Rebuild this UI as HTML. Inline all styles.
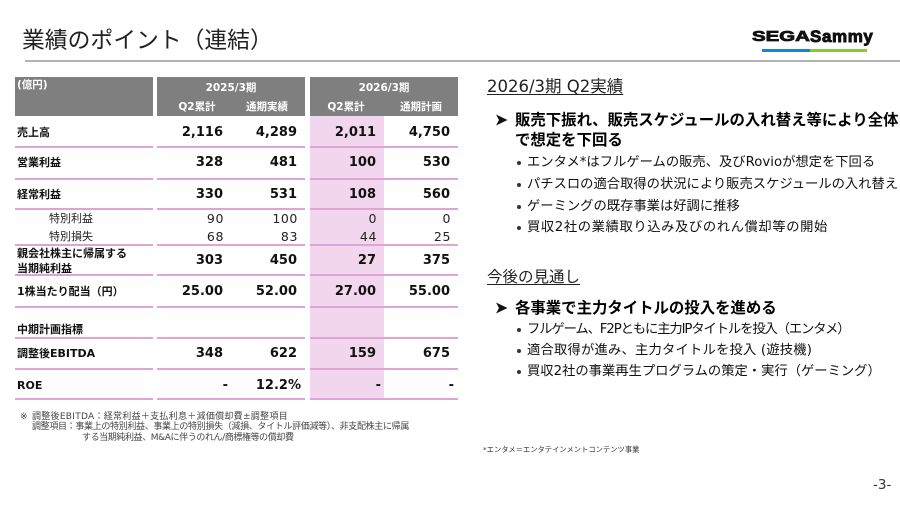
<!DOCTYPE html>
<html><head><meta charset="utf-8">
<style>
*{margin:0;padding:0;box-sizing:border-box}
html,body{width:900px;height:506px;overflow:hidden;background:#fff}
body{position:relative;font-family:"DejaVu Sans","Noto Sans CJK JP",sans-serif;color:#111}
.a{position:absolute;white-space:nowrap}
.hd{position:absolute;background:#7f7f7f}
.ln{position:absolute;height:2px;background:#dea4d6}
.h{color:#fff;font-weight:bold;font-size:10.5px;line-height:14px;width:100px;text-align:center}
.lb{font-weight:bold;font-size:11px;line-height:16px;left:17px}
.sl{font-size:11px;line-height:16px;left:49px;color:#222}
.v{font-weight:bold;font-size:13px;line-height:18px;text-align:right}
.r{font-size:12.5px;line-height:16px;text-align:right;letter-spacing:0.6px;color:#222}
.sb{font-size:13.3px;line-height:20px;left:527px;color:#111}
.dot{position:absolute;width:4px;height:4px;border-radius:50%;background:#333;left:516.5px}
.hb{font-weight:bold;font-size:15.4px;line-height:22px;left:515px;color:#000}
.fn{font-size:9px;line-height:11px;color:#444}
</style></head>
<body>
<!-- title -->
<div class="a" style="left:22px;top:24px;font-family:'Noto Sans CJK JP',sans-serif;font-size:22.8px;line-height:30px;color:#222">業績のポイント（連結）</div>
<div class="a" style="left:25px;top:60px;width:875px;height:2px;background:#b3b3b3"></div>

<!-- logo -->
<div class="a" style="left:752px;top:29.3px;font-family:'Liberation Sans',sans-serif;font-weight:bold;font-size:15px;line-height:15px;transform:scaleX(1.36);transform-origin:left center;-webkit-text-stroke:0.8px #111;color:#111">SEGA</div>
<div class="a" style="left:810px;top:27.6px;font-family:'Liberation Sans',sans-serif;font-weight:bold;font-size:17px;line-height:17px;letter-spacing:0.6px;-webkit-text-stroke:0.9px #111;color:#111">Sammy</div>
<div class="a" style="left:762px;top:49px;width:48px;height:3px;background:#1f7fd0"></div>
<div class="a" style="left:810px;top:49px;width:57px;height:3px;background:#8cc63f"></div>

<!-- table header -->
<div class="hd" style="left:15px;top:77px;width:138px;height:39px"></div>
<div class="hd" style="left:157px;top:77px;width:148px;height:39px"></div>
<div class="hd" style="left:310px;top:77px;width:148px;height:39px"></div>
<div class="a h" style="left:17px;top:78px;width:auto;text-align:left">(億円)</div>
<div class="a h" style="left:181px;top:81px">2025/3期</div>
<div class="a h" style="left:147px;top:100px">Q2累計</div>
<div class="a h" style="left:217px;top:100px">通期実績</div>
<div class="a h" style="left:334px;top:81px">2026/3期</div>
<div class="a h" style="left:296px;top:100px">Q2累計</div>
<div class="a h" style="left:371px;top:100px">通期計画</div>

<!-- highlight -->
<div class="a" style="left:310px;top:116px;width:74px;height:284px;background:#f1d6ed"></div>

<!-- row lines -->
<div class="ln" style="left:15px;top:146px;width:138px"></div><div class="ln" style="left:157px;top:146px;width:148px"></div><div class="ln" style="left:310px;top:146px;width:148px"></div>
<div class="ln" style="left:15px;top:178px;width:138px"></div><div class="ln" style="left:157px;top:178px;width:148px"></div><div class="ln" style="left:310px;top:178px;width:148px"></div>
<div class="ln" style="left:15px;top:208px;width:138px"></div><div class="ln" style="left:157px;top:208px;width:148px"></div><div class="ln" style="left:310px;top:208px;width:148px"></div>
<div class="ln" style="left:15px;top:244px;width:138px"></div><div class="ln" style="left:157px;top:244px;width:148px"></div><div class="ln" style="left:310px;top:244px;width:148px"></div>
<div class="ln" style="left:15px;top:274px;width:138px"></div><div class="ln" style="left:157px;top:274px;width:148px"></div><div class="ln" style="left:310px;top:274px;width:148px"></div>
<div class="ln" style="left:15px;top:306px;width:138px"></div><div class="ln" style="left:157px;top:306px;width:148px"></div><div class="ln" style="left:310px;top:306px;width:148px"></div>
<div class="ln" style="left:15px;top:337px;width:138px"></div><div class="ln" style="left:157px;top:337px;width:148px"></div><div class="ln" style="left:310px;top:337px;width:148px"></div>
<div class="ln" style="left:15px;top:368px;width:138px"></div><div class="ln" style="left:157px;top:368px;width:148px"></div><div class="ln" style="left:310px;top:368px;width:148px"></div>
<div class="ln" style="left:15px;top:398px;width:138px"></div><div class="ln" style="left:157px;top:398px;width:148px"></div><div class="ln" style="left:310px;top:398px;width:148px"></div>

<!-- labels -->
<div class="a lb" style="top:125px">売上高</div>
<div class="a lb" style="top:155px">営業利益</div>
<div class="a lb" style="top:187px">経常利益</div>
<div class="a sl" style="top:211px">特別利益</div>
<div class="a sl" style="top:229px">特別損失</div>
<div class="a lb" style="top:246px">親会社株主に帰属する</div>
<div class="a lb" style="top:261px">当期純利益</div>
<div class="a lb" style="top:284px">1株当たり配当（円）</div>
<div class="a lb" style="top:322px">中期計画指標</div>
<div class="a lb" style="top:346px">調整後EBITDA</div>
<div class="a lb" style="top:378px">ROE</div>

<!-- values -->
<div class="a v" style="right:677px;top:124px">2,116</div>
<div class="a v" style="right:603px;top:124px">4,289</div>
<div class="a v" style="right:524px;top:124px">2,011</div>
<div class="a v" style="right:450px;top:124px">4,750</div>

<div class="a v" style="right:677px;top:154px">328</div>
<div class="a v" style="right:603px;top:154px">481</div>
<div class="a v" style="right:524px;top:154px">100</div>
<div class="a v" style="right:450px;top:154px">530</div>

<div class="a v" style="right:677px;top:186px">330</div>
<div class="a v" style="right:603px;top:186px">531</div>
<div class="a v" style="right:524px;top:186px">108</div>
<div class="a v" style="right:450px;top:186px">560</div>

<div class="a r" style="right:676px;top:211px">90</div>
<div class="a r" style="right:602px;top:211px">100</div>
<div class="a r" style="right:523px;top:211px">0</div>
<div class="a r" style="right:449px;top:211px">0</div>

<div class="a r" style="right:676px;top:229px">68</div>
<div class="a r" style="right:602px;top:229px">83</div>
<div class="a r" style="right:523px;top:229px">44</div>
<div class="a r" style="right:449px;top:229px">25</div>

<div class="a v" style="right:677px;top:252px">303</div>
<div class="a v" style="right:603px;top:252px">450</div>
<div class="a v" style="right:524px;top:252px">27</div>
<div class="a v" style="right:450px;top:252px">375</div>

<div class="a v" style="right:677px;top:283px">25.00</div>
<div class="a v" style="right:603px;top:283px">52.00</div>
<div class="a v" style="right:524px;top:283px">27.00</div>
<div class="a v" style="right:450px;top:283px">55.00</div>

<div class="a v" style="right:677px;top:345px">348</div>
<div class="a v" style="right:603px;top:345px">622</div>
<div class="a v" style="right:524px;top:345px">159</div>
<div class="a v" style="right:450px;top:345px">675</div>

<div class="a v" style="right:672px;top:377px">-</div>
<div class="a v" style="right:599px;top:377px">12.2%</div>
<div class="a v" style="right:519px;top:377px">-</div>
<div class="a v" style="right:446px;top:377px">-</div>

<!-- footnote -->
<div class="a fn" style="left:20px;top:412px">※</div>
<div class="a fn" style="left:32px;top:412px;letter-spacing:0.28px">調整後EBITDA：経常利益＋支払利息＋減価償却費±調整項目</div>
<div class="a fn" style="left:32px;top:422px;letter-spacing:-0.33px">調整項目：事業上の特別利益、事業上の特別損失（減損、タイトル評価減等）、非支配株主に帰属</div>
<div class="a fn" style="left:82px;top:433px;letter-spacing:-0.4px">する当期純利益、M&amp;Aに伴うのれん/商標権等の償却費</div>

<!-- right side -->
<div class="a" style="left:487px;top:76px;font-size:16.5px;line-height:22px;text-decoration:underline;text-underline-offset:2px;color:#222">2026/3期 Q2実績</div>

<svg class="a" style="left:496px;top:114px" width="12" height="12" viewBox="0 0 12 12"><polygon points="0,0.5 11.5,6 0,11.5 3,6" fill="#111"/></svg>
<div class="a hb" style="top:109px">販売下振れ、販売スケジュールの入れ替え等により全体</div>
<div class="a hb" style="top:129px">で想定を下回る</div>

<div class="dot" style="top:161px"></div>
<div class="a sb" style="top:153px">エンタメ*はフルゲームの販売、及びRovioが想定を下回る</div>
<div class="dot" style="top:183px"></div>
<div class="a sb" style="top:175px">パチスロの適合取得の状況により販売スケジュールの入れ替え</div>
<div class="dot" style="top:205px"></div>
<div class="a sb" style="top:197px">ゲーミングの既存事業は好調に推移</div>
<div class="dot" style="top:226px"></div>
<div class="a sb" style="top:218px;letter-spacing:0.6px">買収2社の業績取り込み及びのれん償却等の開始</div>

<div class="a" style="left:487px;top:266px;font-size:15.5px;line-height:22px;text-decoration:underline;text-underline-offset:2px;color:#222">今後の見通し</div>

<svg class="a" style="left:496px;top:302px" width="12" height="12" viewBox="0 0 12 12"><polygon points="0,0.5 11.5,6 0,11.5 3,6" fill="#111"/></svg>
<div class="a hb" style="top:297px">各事業で主力タイトルの投入を進める</div>

<div class="dot" style="top:328px"></div>
<div class="a sb" style="top:320px;letter-spacing:-1.1px">フルゲーム、F2Pともに主力IPタイトルを投入（エンタメ）</div>
<div class="dot" style="top:349px"></div>
<div class="a sb" style="top:341px;letter-spacing:0.2px">適合取得が進み、主力タイトルを投入 (遊技機)</div>
<div class="dot" style="top:370px"></div>
<div class="a sb" style="top:362px">買収2社の事業再生プログラムの策定・実行（ゲーミング）</div>

<div class="a" style="left:483px;top:445px;font-size:7.3px;line-height:10px;color:#333">*エンタメ＝エンタテインメントコンテンツ事業</div>

<div class="a" style="left:873px;top:477px;font-size:13.5px;line-height:16px;color:#333">-3-</div>
</body></html>
